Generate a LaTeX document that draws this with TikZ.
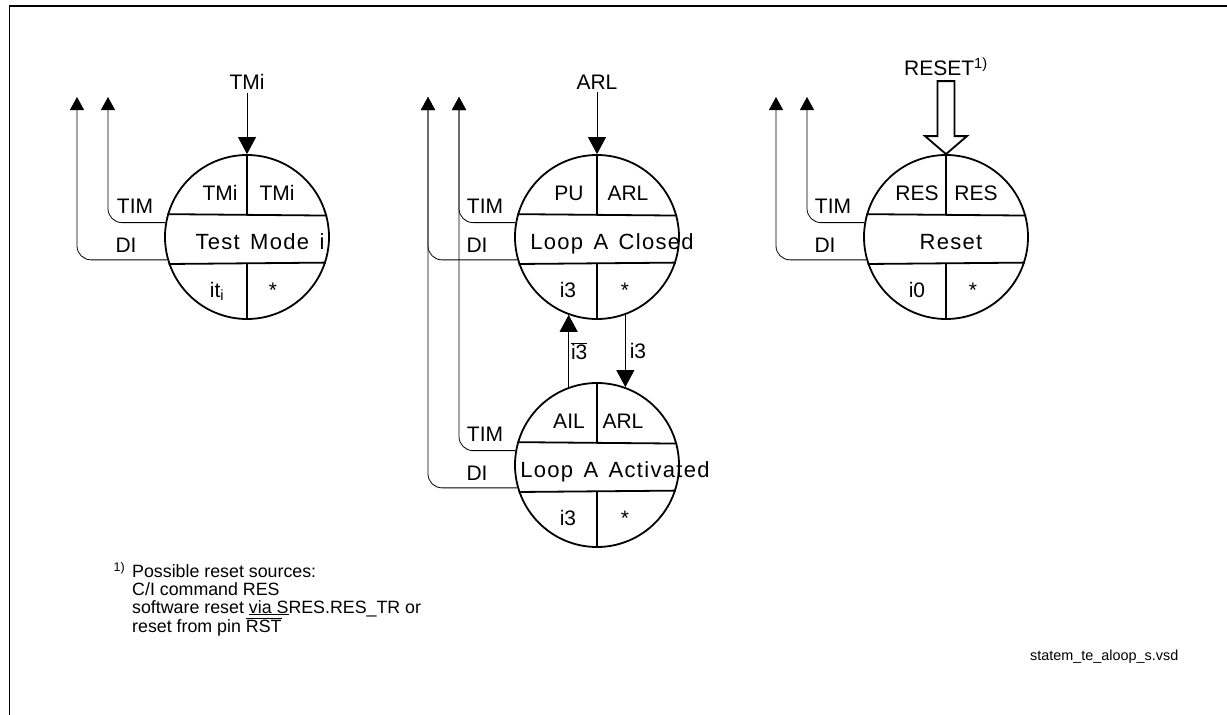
\documentclass[tikz,border=0pt]{standalone}
\usepackage{fontspec}
\setmainfont{Liberation Sans}
\newfontfamily\spacedfont[LetterSpace=6, WordSpace=1.4]{Liberation Sans}
\usetikzlibrary{arrows.meta, calc, positioning}

\begin{document}
\begin{tikzpicture}[x=1pt, y=-1pt,
    state/.style={circle, draw, line width=1.8pt, minimum size=164pt, inner sep=0pt},
    divider/.style={line width=1.8pt},
    cell/.style={anchor=base, inner sep=0pt, font=\fontsize{21}{23}\selectfont},
    statename/.style={anchor=base, inner sep=0pt, font=\fontsize{22}{24}\spacedfont},
    inlabel/.style={inner sep=3pt, font=\fontsize{21}{23}\selectfont},
    line/.style={draw, line width=0.8pt},
    feed/.style={line, rounded corners=14pt, -{Triangle[width=14pt, length=13pt]}},
    trans/.style={line, -{Triangle[width=18pt, length=17pt]}},
    note/.style={inner sep=0pt, align=left, font=\fontsize{17.8}{17.8}\selectfont}]

    \useasboundingbox (0,0) rectangle (1227,715);

    % page frame
    \draw[line width=1.5pt] (9,6) -- (1227,6);
    \draw[line width=0.8pt] (9,6) -- (9,715);

    % states
    \node[state] (test) at (247,237) {};
    \node[state] (closed) at (597,237) {};
    \node[state] (activ) at (597,465) {};
    \node[state] (reset) at (946,237) {};

    \foreach \s in {test, closed, activ, reset} {
        \draw[divider] (\s.164.44) -- (\s.15.56) (\s.-161.5) -- (\s.-18.5)
            (\s.north) -- ($(\s)+(0,-22)$) ($(\s)+(0,26)$) -- (\s.south);
    }

    % state fields
    \node[cell] (test-a) at ($(test)+(-27,-37)$) {TMi};
    \node[cell] (test-b) at ($(test)+(30,-37)$) {TMi};
    \node[statename] (test-n) at ($(test)+(13,12)$) {Test Mode i};
    \node[cell] (test-c) at ($(test)+(-30,60)$) {it\textsubscript{i}};
    \node[cell] (test-d) at ($(test)+(26,60)$) {*};

    \node[cell] (closed-a) at ($(closed)+(-28,-37)$) {PU};
    \node[cell] (closed-b) at ($(closed)+(31,-37)$) {ARL};
    \node[statename] (closed-n) at ($(closed)+(15,12)$) {Loop A Closed};
    \node[cell] (closed-c) at ($(closed)+(-29,60)$) {i3};
    \node[cell] (closed-d) at ($(closed)+(28,60)$) {*};

    \node[cell] (activ-a) at ($(activ)+(-28,-37)$) {AIL};
    \node[cell] (activ-b) at ($(activ)+(26,-37)$) {ARL};
    \node[statename] (activ-n) at ($(activ)+(18,12)$) {Loop A Activated};
    \node[cell] (activ-c) at ($(activ)+(-29,60)$) {i3};
    \node[cell] (activ-d) at ($(activ)+(28,60)$) {*};

    \node[cell] (reset-a) at ($(reset)+(-29,-37)$) {RES};
    \node[cell] (reset-b) at ($(reset)+(30,-37)$) {RES};
    \node[statename] (reset-n) at ($(reset)+(5,12)$) {Reset};
    \node[cell] (reset-c) at ($(reset)+(-29,60)$) {i0};
    \node[cell] (reset-d) at ($(reset)+(27,60)$) {*};

    % TIM / DI exits
    \coordinate (tim1) at ($(test)+(-139,-140)$);
    \coordinate (di1) at ($(test)+(-170,-140)$);
    \coordinate (tim2) at ($(closed)+(-138,-140)$);
    \coordinate (di2) at ($(closed)+(-169,-140)$);
    \coordinate (tim4) at ($(reset)+(-139,-140)$);
    \coordinate (di4) at ($(reset)+(-170,-140)$);

    \draw[feed] (test.170) -| (tim1);
    \draw[feed] (test.196) -| (di1);
    \draw[feed] (closed.170) -| (tim2);
    \draw[feed] (closed.196) -| (di2);
    \draw[feed] (activ.170) -| (tim2);
    \draw[feed] (activ.196) -| (di2);
    \draw[feed] (reset.170) -| (tim4);
    \draw[feed] (reset.196) -| (di4);

    \node[cell] (test-tim) at ($(test)+(-112,-24)$) {TIM};
    \node[cell] (test-di) at ($(test)+(-121,15)$) {DI};
    \node[cell] (closed-tim) at ($(closed)+(-112,-24)$) {TIM};
    \node[cell] (closed-di) at ($(closed)+(-120,15)$) {DI};
    \node[cell] (activ-tim) at ($(activ)+(-112,-24)$) {TIM};
    \node[cell] (activ-di) at ($(activ)+(-120,15)$) {DI};
    \node[cell] (reset-tim) at ($(reset)+(-113,-24)$) {TIM};
    \node[cell] (reset-di) at ($(reset)+(-121,15)$) {DI};

    % entries
    \node[inlabel] (tmi) at (247,82) {TMi};
    \node[inlabel] (arl) at (597,82) {ARL};
    \node[inlabel] (rst) at (946,67) {RESET\textsuperscript{1)}};
    \path[trans] (tmi) -- (test.north);
    \path[trans] (arl) -- (closed.north);
    \draw[line width=1.8pt, line join=miter] (reset.north) -- ++(-21,-18) -- ++(12.5,0)
        -- ++(0,-55) -- ++(17,0) -- ++(0,55) -- ++(12.5,0) -- cycle;

    % loop transitions
    \path[trans] (activ.110) -- node[right, inlabel, inner sep=2pt] (nbar) {\mbox{$\overline{\mbox{i3}}$}} (closed.-110);
    \path[trans] (closed.-70) -- node[right, inlabel, inner sep=4pt] (ni3) {i3} (activ.70);

    % footnote
    \node[note, anchor=north west] (fn) at (132,562)
        {\llap{\textsuperscript{1)}\hspace{7pt}}Possible reset sources:\\
         C/I command RES\\
         software reset \underline{via S}RES.RES\_TR or\\
         reset from pin \mbox{$\overline{\mbox{RST}}$}};
    \node[anchor=base west, inner sep=0pt, font=\fontsize{14.4}{16}\selectfont] (file) at (1030,660)
        {statem\_te\_aloop\_s.vsd};
\end{tikzpicture}
\end{document}
